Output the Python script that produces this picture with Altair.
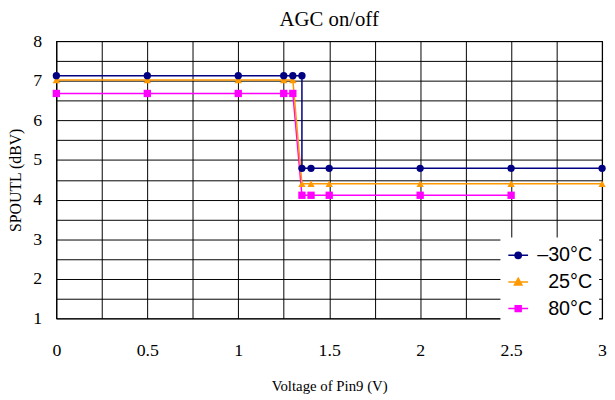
import altair as alt
import pandas as pd

# ---- data ----
series = ["–30°C", "25°C", "80°C"]
colors = ["#000080", "#FF9900", "#FF00FF"]
markers = ["circle", "triangle-up", "square"]

x_m30 = [0, 0.5, 1, 1.25, 1.3, 1.35, 1.35, 1.4, 1.5, 2, 2.5, 3]
y_m30 = [7.13, 7.13, 7.13, 7.13, 7.13, 7.13, 4.79, 4.79, 4.79, 4.79, 4.79, 4.79]

x_25 = [0, 0.5, 1, 1.25, 1.3, 1.35, 1.4, 1.5, 2, 2.5, 3]
y_25 = [7.02, 7.02, 7.02, 7.02, 7.02, 4.40, 4.40, 4.40, 4.40, 4.40, 4.40]

x_80 = [0, 0.5, 1, 1.25, 1.3, 1.35, 1.4, 1.5, 2, 2.5]
y_80 = [6.68, 6.68, 6.68, 6.68, 6.68, 4.11, 4.11, 4.11, 4.11, 4.11]

x_ticks = [0, 0.25, 0.5, 0.75, 1, 1.25, 1.5, 1.75, 2, 2.25, 2.5, 2.75, 3]
y_ticks = [1, 1.5, 2, 2.5, 3, 3.5, 4, 4.5, 5, 5.5, 6, 6.5, 7, 7.5, 8]

rows = []
for name, xs, ys in [(series[0], x_m30, y_m30), (series[1], x_25, y_25), (series[2], x_80, y_80)]:
    for i, (xv, yv) in enumerate(zip(xs, ys)):
        rows.append({"series": name, "v": xv, "db": yv, "idx": i})
df = pd.DataFrame(rows)

serif = "Liberation Serif"
sans = "Liberation Sans"

xscale = alt.Scale(domain=[0, 3], nice=False, zero=False)
yscale = alt.Scale(domain=[1, 8], nice=False, zero=False)
cscale = alt.Scale(domain=series, range=colors)

xaxis = alt.Axis(
    values=x_ticks,
    labelExpr="(datum.value * 2) % 1 == 0 ? format(datum.value, '~g') : ''",
    grid=True, gridColor="black", gridOpacity=1, gridWidth=1,
    ticks=False, domain=False,
    labelFont=serif, labelFontSize=18, labelColor="black", labelPadding=24,
    labelFlush=False,
    title="Voltage of Pin9 (V)", titleFont=serif, titleFontSize=15,
    titleFontWeight="normal", titleColor="black", titlePadding=19,
)
yaxis = alt.Axis(
    values=y_ticks,
    labelExpr="datum.value % 1 == 0 ? format(datum.value, 'd') : ''",
    grid=True, gridColor="black", gridOpacity=1, gridWidth=1,
    ticks=False, domain=False,
    labelFont=serif, labelFontSize=18, labelColor="black", labelPadding=15,
    labelFlush=False,
    title="SPOUTL (dBV)", titleFont=serif, titleFontSize=16,
    titleFontWeight="normal", titleColor="black", titlePadding=9,
)

xenc = alt.X("v:Q", scale=xscale, axis=xaxis)
yenc = alt.Y("db:Q", scale=yscale, axis=yaxis)

# draw magenta first, navy last (navy on top)
line_layers = []
point_layers = []
for name, col, shp in reversed(list(zip(series, colors, markers))):
    base = alt.Chart(df).transform_filter(alt.datum.series == name)
    line_layers.append(
        base.mark_line(strokeWidth=1.5, color=col)
        .encode(x=xenc, y=yenc, order=alt.Order("idx:Q"))
    )
    point_layers.append(
        base.mark_point(filled=True, opacity=1, size=55, shape=shp, color=col)
        .encode(x=xenc, y=yenc)
    )

legend_paths = [
    "M-1,0H1M0.32,0A0.32,0.32 0 1,1 -0.32,0A0.32,0.32 0 1,1 0.32,0Z",
    "M-1,0H1M0,-0.38L0.38,0.3L-0.38,0.3Z",
    "M-1,0H1M-0.3,-0.3H0.3V0.3H-0.3Z",
]
leg = alt.Legend(
    title=None, orient="none", legendX=450, legendY=199,
    fillColor="white", padding=7, symbolSize=400, symbolStrokeWidth=1.5,
    labelFont=sans, labelFontSize=20, labelColor="black", labelOffset=64,
    labelAlign="right", rowPadding=6,
)
legend_layer = alt.Chart(df).transform_filter("false").mark_point(
    filled=True, opacity=1, strokeWidth=1.5, size=400
).encode(
    x=xenc, y=yenc,
    color=alt.Color("series:N", scale=cscale, legend=leg),
    stroke=alt.Stroke("series:N", scale=cscale, legend=leg),
    shape=alt.Shape("series:N", scale=alt.Scale(domain=series, range=legend_paths), legend=leg),
)

chart = alt.layer(*line_layers, *point_layers, legend_layer).properties(
    width=553, height=281,
    title=alt.Title("AGC on/off", font=serif, fontSize=21, fontWeight="normal",
                    color="black", offset=2),
    padding={"left": 49, "top": 31, "right": 5, "bottom": 80},
    autosize="none",
).configure_view(stroke="black", strokeWidth=1.2)

chart.save("out.html", embed_options={"renderer": "svg", "actions": False})
